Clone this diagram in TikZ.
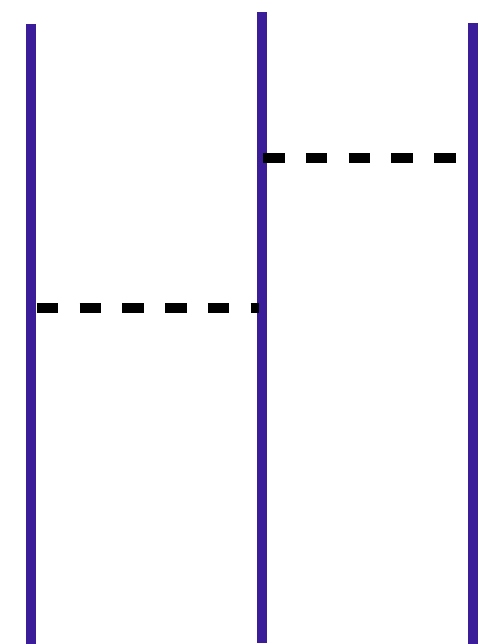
\documentclass[tikz,border=0pt]{standalone}
\usepackage{tikz}
\usetikzlibrary{backgrounds}
\definecolor{lifeviolet}{HTML}{3B1D99}

\begin{document}
\begin{tikzpicture}[x=1pt, y=-1pt,
  life/.style={draw=lifeviolet, line width=10pt},
  msg/.style={draw=black, line width=10.5pt, dash pattern=on 21.5pt off 21.3pt}]
  \useasboundingbox (0,0) rectangle (477,644);
  % --- lifelines: ends ---
  \coordinate (atop) at (31,24);      \coordinate (abot) at (31,644);
  \coordinate (btop) at (262.3,12.5); \coordinate (bbot) at (262.3,642.7);
  \coordinate (ctop) at (473.2,23);   \coordinate (cbot) at (473.2,644);
  \foreach \l in {a,b,c}{\draw[life] (\l top) -- (\l bot);}
  % --- messages ---
  \coordinate (m1s) at (36.7,308);  \coordinate (m1e) at (258.5,308);
  \coordinate (m2s) at (263,158.2); \coordinate (m2e) at (455.6,158.2);
  \draw[msg] (m1s) -- (m1e);
  \draw[msg] (m2s) -- (m2e);
\end{tikzpicture}
\end{document}
